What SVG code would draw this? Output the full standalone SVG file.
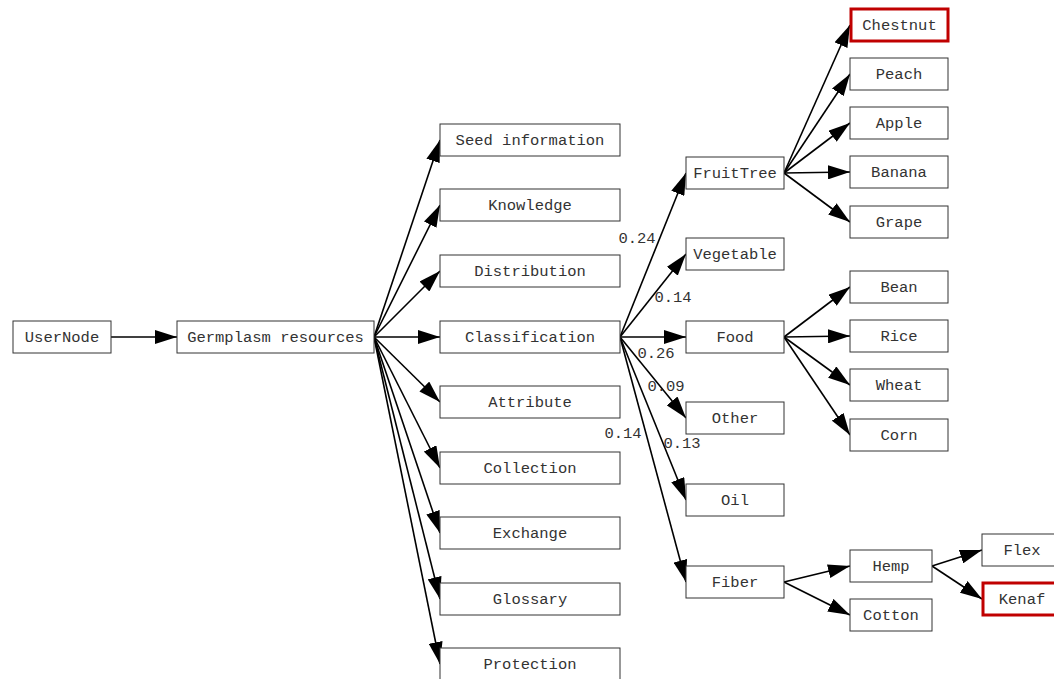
<svg xmlns="http://www.w3.org/2000/svg" width="1054" height="679" viewBox="0 0 1054 679">
<style>
.n rect{fill:#fff;stroke:#333;stroke-width:1}
.n.r rect{stroke:#c00000;stroke-width:3}
text{font-family:"Liberation Mono","DejaVu Sans Mono",monospace;font-size:15.5px;fill:#333;text-anchor:middle}
#edges line{stroke:#000;stroke-width:1.6;marker-end:url(#ah)}
</style>
<defs>
<marker id="ah" markerUnits="userSpaceOnUse" markerWidth="22" markerHeight="14" refX="22" refY="7" orient="auto">
<path d="M0,0 L22,7 L0,14 z" fill="#000"/>
</marker>
</defs>
<rect width="1054" height="679" fill="#fff"/>
<g id="edges">
<line x1="111" y1="337" x2="177" y2="337"/>
<line x1="374" y1="337" x2="440" y2="140"/>
<line x1="374" y1="337" x2="440" y2="205"/>
<line x1="374" y1="337" x2="440" y2="271"/>
<line x1="374" y1="337" x2="440" y2="337"/>
<line x1="374" y1="337" x2="440" y2="402"/>
<line x1="374" y1="337" x2="440" y2="468"/>
<line x1="374" y1="337" x2="440" y2="533"/>
<line x1="374" y1="337" x2="440" y2="599"/>
<line x1="374" y1="337" x2="440" y2="664"/>
<line x1="620" y1="337" x2="686" y2="173"/>
<line x1="620" y1="337" x2="686" y2="254"/>
<line x1="620" y1="337" x2="686" y2="337"/>
<line x1="620" y1="337" x2="686" y2="418"/>
<line x1="620" y1="337" x2="686" y2="500"/>
<line x1="620" y1="337" x2="686" y2="582"/>
<line x1="784" y1="173" x2="850" y2="25"/>
<line x1="784" y1="173" x2="850" y2="74"/>
<line x1="784" y1="173" x2="850" y2="123"/>
<line x1="784" y1="173" x2="850" y2="172"/>
<line x1="784" y1="173" x2="850" y2="222"/>
<line x1="784" y1="337" x2="850" y2="287"/>
<line x1="784" y1="337" x2="850" y2="336"/>
<line x1="784" y1="337" x2="850" y2="385"/>
<line x1="784" y1="337" x2="850" y2="435"/>
<line x1="784" y1="582" x2="850" y2="566"/>
<line x1="784" y1="582" x2="850" y2="615"/>
<line x1="932" y1="566" x2="982" y2="550"/>
<line x1="932" y1="566" x2="982" y2="599"/>
<text x="637" y="243">0.24</text>
<text x="673" y="302">0.14</text>
<text x="656" y="358">0.26</text>
<text x="666" y="391">0.09</text>
<text x="623" y="438">0.14</text>
<text x="682" y="448">0.13</text>
</g>
<g id="n-user" class="n"><rect x="13" y="321" width="98" height="32"/><text x="62" y="342">UserNode</text></g>
<g id="n-germ" class="n"><rect x="177" y="321" width="197" height="32"/><text x="275.5" y="342">Germplasm resources</text></g>
<g id="n-seed" class="n"><rect x="440" y="124" width="180" height="32"/><text x="530" y="145">Seed information</text></g>
<g id="n-know" class="n"><rect x="440" y="189" width="180" height="32"/><text x="530" y="210">Knowledge</text></g>
<g id="n-dist" class="n"><rect x="440" y="255" width="180" height="32"/><text x="530" y="276">Distribution</text></g>
<g id="n-class" class="n"><rect x="440" y="321" width="180" height="32"/><text x="530" y="342">Classification</text></g>
<g id="n-attr" class="n"><rect x="440" y="386" width="180" height="32"/><text x="530" y="407">Attribute</text></g>
<g id="n-coll" class="n"><rect x="440" y="452" width="180" height="32"/><text x="530" y="473">Collection</text></g>
<g id="n-exch" class="n"><rect x="440" y="517" width="180" height="32"/><text x="530" y="538">Exchange</text></g>
<g id="n-glos" class="n"><rect x="440" y="583" width="180" height="32"/><text x="530" y="604">Glossary</text></g>
<g id="n-prot" class="n"><rect x="440" y="648" width="180" height="32"/><text x="530" y="669">Protection</text></g>
<g id="n-fruit" class="n"><rect x="686" y="157" width="98" height="32"/><text x="735" y="178">FruitTree</text></g>
<g id="n-veg" class="n"><rect x="686" y="238" width="98" height="32"/><text x="735" y="259">Vegetable</text></g>
<g id="n-food" class="n"><rect x="686" y="321" width="98" height="32"/><text x="735" y="342">Food</text></g>
<g id="n-other" class="n"><rect x="686" y="402" width="98" height="32"/><text x="735" y="423">Other</text></g>
<g id="n-oil" class="n"><rect x="686" y="484" width="98" height="32"/><text x="735" y="505">Oil</text></g>
<g id="n-fiber" class="n"><rect x="686" y="566" width="98" height="32"/><text x="735" y="587">Fiber</text></g>
<g id="n-chest" class="n r"><rect x="851" y="9" width="97" height="32"/><text x="899.5" y="30">Chestnut</text></g>
<g id="n-peach" class="n"><rect x="850" y="58" width="98" height="32"/><text x="899" y="79">Peach</text></g>
<g id="n-apple" class="n"><rect x="850" y="107" width="98" height="32"/><text x="899" y="128">Apple</text></g>
<g id="n-banana" class="n"><rect x="850" y="156" width="98" height="32"/><text x="899" y="177">Banana</text></g>
<g id="n-grape" class="n"><rect x="850" y="206" width="98" height="32"/><text x="899" y="227">Grape</text></g>
<g id="n-bean" class="n"><rect x="850" y="271" width="98" height="32"/><text x="899" y="292">Bean</text></g>
<g id="n-rice" class="n"><rect x="850" y="320" width="98" height="32"/><text x="899" y="341">Rice</text></g>
<g id="n-wheat" class="n"><rect x="850" y="369" width="98" height="32"/><text x="899" y="390">Wheat</text></g>
<g id="n-corn" class="n"><rect x="850" y="419" width="98" height="32"/><text x="899" y="440">Corn</text></g>
<g id="n-hemp" class="n"><rect x="850" y="550" width="82" height="32"/><text x="891" y="571">Hemp</text></g>
<g id="n-cotton" class="n"><rect x="850" y="599" width="82" height="32"/><text x="891" y="620">Cotton</text></g>
<g id="n-flex" class="n"><rect x="982" y="534" width="82" height="32"/><text x="1022" y="555">Flex</text></g>
<g id="n-kenaf" class="n r"><rect x="983" y="583" width="81" height="32"/><text x="1022" y="604">Kenaf</text></g>
</svg>
